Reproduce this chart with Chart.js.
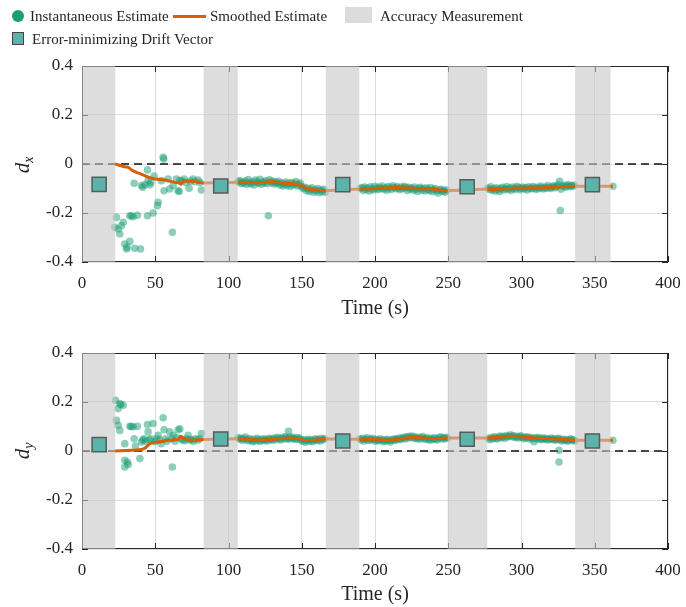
<!DOCTYPE html>
<html>
<head>
<meta charset="utf-8">
<script src="https://cdn.jsdelivr.net/npm/chart.js@4.4.0/dist/chart.umd.min.js"></script>
<style>
body { margin: 0; background: #fff; font-family: "Liberation Serif", serif; color: #262626; }
#wrap { position: relative; width: 686px; height: 607px; overflow: hidden; }
.cv { position: absolute; left: 0; width: 686px; }
.leg { position: absolute; font-size: 15px; line-height: 18px; white-space: nowrap; }
.ico { position: absolute; }
.ylab { position: absolute; width: 40px; height: 28px; line-height: 28px; text-align: center;
        font-style: italic; font-size: 21px; transform: rotate(-90deg); }
.ylab sub { font-size: 14px; vertical-align: -4px; }
</style>
</head>
<body>
<div id="wrap">
  <div id="c1box" class="cv" style="top:0;height:330px"><canvas id="chart_dx"></canvas></div>
  <div id="c2box" class="cv" style="top:330px;height:277px"><canvas id="chart_dy"></canvas></div>

  <!-- legend -->
  <div class="ico" style="left:12px;top:10px;width:12px;height:12px;border-radius:50%;background:#1b9e77"></div>
  <div class="leg" style="left:30px;top:7px">Instantaneous Estimate</div>
  <div class="ico" style="left:173px;top:15px;width:33px;height:3px;background:#d95f02"></div>
  <div class="leg" style="left:210px;top:7px">Smoothed Estimate</div>
  <div class="ico" style="left:345px;top:7px;width:27px;height:16px;background:#dcdcdc"></div>
  <div class="leg" style="left:380px;top:7px">Accuracy Measurement</div>
  <div class="ico" style="left:12px;top:32px;width:10px;height:11px;background:#5ab4ac;border:1.5px solid #444"></div>
  <div class="leg" style="left:32px;top:30px">Error-minimizing Drift Vector</div>

  <div class="ylab" style="left:2px;top:151px">d<sub>x</sub></div>
  <div class="ylab" style="left:2px;top:437px">d<sub>y</sub></div>
</div>
<script>
/*
############################## Data ##############################
*/
// accuracy measurement windows, seconds
var bands = [[0, 22.7], [83, 106.3], [166.4, 189.3], [249.6, 276.6], [336.6, 360.8]];

var xTicks = [0, 50, 100, 150, 200, 250, 300, 350, 400];
var yTicks = [-0.4, -0.2, 0, 0.2, 0.4];

// [time, dx] instantaneous estimates
var instDx = [
  [22.4,-0.258],[23.5,-0.218],[24.7,-0.265],[25.8,-0.286],[26.9,-0.252],[28.1,-0.238],[29.2,-0.327],[30.4,-0.347],
  [30.8,-0.34],[32.6,-0.316],[32.6,-0.211],[33.8,-0.211],[34.9,-0.215],[36,-0.344],[37.8,-0.209],[39.9,-0.347],
  [35.6,-0.079],[40.6,-0.088],[41.5,-0.095],[42.9,-0.085],[44.7,-0.024],[45.1,-0.068],[46.3,-0.085],[47,-0.075],
  [44.7,-0.211],[48.5,-0.2],[49.2,-0.049],[51.5,-0.17],[52,-0.156],[54.2,-0.068],[55.4,0.027],[55.8,0.02],
  [56,-0.109],[58.8,-0.061],[59.9,-0.102],[61.7,-0.279],[62.2,-0.088],[64.5,-0.061],[65.6,-0.109],[66.3,-0.112],
  [66.8,-0.068],[68,-0.07],[69.7,-0.061],[71,-0.075],[73.1,-0.099],[74,-0.07],[75.8,-0.061],[77,-0.072],
  [79.2,-0.065],[80.5,-0.075],[81.5,-0.106],
  [106.5,-0.072],[107.5,-0.068],[108.5,-0.08],[109.5,-0.074],[110.5,-0.079],[111.5,-0.07],[112.5,-0.083],[113.5,-0.063],
  [114.5,-0.077],[115.5,-0.081],[116.5,-0.072],[117.5,-0.086],[118.5,-0.066],[119.5,-0.074],[120.5,-0.079],[121.5,-0.062],
  [122.5,-0.083],[123.5,-0.073],[124.5,-0.078],[125.5,-0.069],[126.5,-0.08],[127.2,-0.211],[128,-0.064],[129,-0.076],
  [130,-0.07],[131,-0.082],[132,-0.074],[133,-0.079],[134,-0.071],[135,-0.085],[136,-0.077],[137,-0.09],
  [138,-0.082],[139,-0.074],[140,-0.087],[141,-0.079],[142,-0.092],[143,-0.076],[144,-0.086],[145,-0.081],
  [146,-0.072],[147,-0.09],[148,-0.084],[149,-0.078],[150,-0.093],[151,-0.1],[152,-0.095],[153,-0.108],
  [154,-0.099],[155,-0.112],[156,-0.104],[157,-0.097],[158,-0.115],[159,-0.105],[160,-0.11],[161,-0.1],
  [162,-0.117],[163,-0.106],[164,-0.112],[165,-0.103],[166,-0.115],
  [190,-0.1],[191,-0.096],[192,-0.108],[193,-0.094],[194,-0.104],[195,-0.098],[196,-0.11],[197,-0.093],
  [198,-0.101],[199,-0.106],[200,-0.091],[201,-0.099],[202,-0.105],[203,-0.094],[204,-0.1],[205,-0.09],
  [206,-0.103],[207,-0.097],[208,-0.107],[209,-0.092],[210,-0.098],[211,-0.104],[212,-0.089],[213,-0.096],
  [214,-0.101],[215,-0.092],[216,-0.099],[217,-0.105],[218,-0.094],[219,-0.1],[220,-0.091],[221,-0.097],
  [222,-0.108],[223,-0.095],[224,-0.102],[225,-0.098],[226,-0.107],[227,-0.094],[228,-0.103],[229,-0.112],
  [230,-0.099],[231,-0.095],[232,-0.106],[233,-0.1],[234,-0.11],[235,-0.097],[236,-0.103],[237,-0.108],
  [238,-0.096],[239,-0.113],[240,-0.104],[241,-0.1],[242,-0.109],[243,-0.118],[244,-0.106],[245,-0.103],
  [246,-0.112],[247,-0.107],[248,-0.115],[249,-0.106],
  [277,-0.098],[278,-0.104],[279,-0.093],[280,-0.107],[281,-0.1],[282,-0.11],[283,-0.097],[284,-0.104],
  [285,-0.112],[286,-0.099],[287,-0.095],[288,-0.106],[289,-0.101],[290,-0.092],[291,-0.104],[292,-0.098],
  [293,-0.108],[294,-0.094],[295,-0.1],[296,-0.103],[297,-0.091],[298,-0.097],[299,-0.105],[300,-0.099],
  [301,-0.094],[302,-0.102],[303,-0.096],[304,-0.106],[305,-0.093],[306,-0.099],[307,-0.101],[308,-0.092],
  [309,-0.098],[310,-0.104],[311,-0.095],[312,-0.1],[313,-0.09],[314,-0.097],[315,-0.102],[316,-0.094],
  [317,-0.099],[318,-0.088],[319,-0.096],[320,-0.1],[321,-0.093],[322,-0.089],[323,-0.097],[324,-0.092],
  [325,-0.085],[326,-0.071],[326.5,-0.19],[327,-0.103],[328,-0.091],[329,-0.087],[330,-0.095],[331,-0.09],
  [332,-0.084],[333,-0.093],[334,-0.088],[335,-0.091],[336,-0.086],[362.4,-0.091]
];

// [time, dy] instantaneous estimates
var instDy = [
  [22.9,0.207],[23.5,0.125],[24.7,0.173],[24.7,0.105],[25.8,0.193],[25.8,0.084],[26.5,0.19],[28.1,0.187],
  [29.2,0.03],[29.2,-0.038],[29.2,-0.065],[31,-0.045],[31.5,-0.055],[32.7,0.101],[33.5,0.1],[34.9,0.099],
  [35.6,0.05],[37.8,0.101],[36.5,0.02],[39.5,-0.031],[40.6,0.037],[41.5,0.045],[42.4,0.05],[43.5,0.04],
  [44.7,0.108],[45.1,0.078],[46,0.045],[47,0.05],[48.5,0.112],[49.5,0.038],[51,0.05],[52,0.064],
  [53,0.045],[54,0.03],[55.4,0.136],[56,0.087],[57,0.05],[58,0.04],[59.9,0.078],[61,0.05],
  [61.7,-0.065],[62.2,0.064],[63.5,0.04],[64.5,0.055],[65.6,0.087],[66.8,0.091],[67.5,0.05],[68.5,0.045],
  [70,0.042],[71.5,0.05],[72.4,0.064],[73.5,0.045],[74.7,0.047],[76,0.04],[77.5,0.05],[79,0.045],
  [80.5,0.05],[81.5,0.071],
  [106.5,0.055],[107.5,0.048],[108.5,0.052],[109.5,0.044],[110.5,0.05],[111.5,0.057],[112.5,0.046],[113.5,0.042],
  [114.5,0.051],[115.5,0.045],[116.5,0.038],[117.5,0.048],[118.5,0.041],[119.5,0.052],[120.5,0.046],[121.5,0.039],
  [122.5,0.045],[123.5,0.05],[124.5,0.043],[125.5,0.048],[126.5,0.041],[127.5,0.052],[128.5,0.046],[129.5,0.05],
  [130.5,0.044],[131.5,0.053],[132.5,0.047],[133.5,0.056],[134.5,0.05],[135.5,0.045],[136.5,0.055],[137.5,0.049],
  [138.5,0.058],[139.5,0.052],[140.5,0.048],[141,0.08],[141.5,0.056],[142.5,0.05],[143.5,0.057],[144.5,0.051],
  [145.5,0.047],[146.5,0.055],[147.5,0.049],[148.5,0.053],[149.5,0.046],[150.5,0.04],[151.5,0.047],[152.5,0.036],
  [153.5,0.043],[154.5,0.048],[155.5,0.04],[156.5,0.046],[157.5,0.038],[158.5,0.045],[159.5,0.05],[160.5,0.043],
  [161.5,0.048],[162.5,0.041],[163.5,0.052],[164.5,0.046],[165.5,0.05],
  [189.5,0.05],[190.5,0.045],[191.5,0.052],[192.5,0.041],[193.5,0.048],[194.5,0.054],[195.5,0.043],[196.5,0.049],
  [197.5,0.045],[198.5,0.052],[199.5,0.046],[200.5,0.04],[201.5,0.047],[202.5,0.043],[203.5,0.05],[204.5,0.044],
  [205.5,0.038],[206.5,0.046],[207.5,0.041],[208.5,0.048],[209.5,0.043],[210.5,0.037],[211.5,0.045],[212.5,0.049],
  [213.5,0.043],[214.5,0.05],[215.5,0.046],[216.5,0.053],[217.5,0.047],[218.5,0.052],[219.5,0.056],[220.5,0.049],
  [221.5,0.058],[222.5,0.053],[223.5,0.06],[224.5,0.055],[225.5,0.061],[226.5,0.052],[227.5,0.057],[228.5,0.05],
  [229.5,0.056],[230.5,0.048],[231.5,0.054],[232.5,0.059],[233.5,0.051],[234.5,0.047],[235.5,0.055],[236.5,0.049],
  [237.5,0.044],[238.5,0.052],[239.5,0.047],[240.5,0.054],[241.5,0.049],[242.5,0.045],[243.5,0.053],[244.5,0.058],
  [245.5,0.05],[246.5,0.055],[247.5,0.049],[248.5,0.056],[249.5,0.052],
  [277.5,0.052],[278.5,0.046],[279.5,0.055],[280.5,0.05],[281.5,0.058],[282.5,0.053],[283.5,0.049],[284.5,0.056],
  [285.5,0.061],[286.5,0.054],[287.5,0.059],[288.5,0.052],[289.5,0.063],[290.5,0.057],[291.5,0.06],[292.5,0.066],
  [293.5,0.058],[294.5,0.062],[295.5,0.055],[296.5,0.06],[297.5,0.053],[298.5,0.058],[299.5,0.062],[300.5,0.055],
  [301.5,0.05],[302.5,0.058],[303.5,0.053],[304.5,0.057],[305.5,0.049],[306.5,0.055],[307.5,0.051],[308.5,0.038],
  [309.5,0.054],[310.5,0.049],[311.5,0.056],[312.5,0.05],[313.5,0.046],[314.5,0.053],[315.5,0.048],[316.5,0.052],
  [317.5,0.045],[318.5,0.05],[319.5,0.047],[320.5,0.053],[321.5,0.046],[322.5,0.05],[323.5,0.044],[324.5,0.049],
  [325.5,0.052],[325.6,0.003],[325.6,-0.045],[326.5,0.046],[327.5,0.041],[328.5,0.048],[329.5,0.043],[330.5,0.047],
  [331.5,0.04],[332.5,0.045],[333.5,0.05],[334.5,0.043],[335.5,0.046],[336.5,0.041],[362.4,0.044]
];

// [time, dx] smoothed estimate
var smoothDx = [
  [22.5,0],[24,-0.002],[26,-0.006],[28,-0.01],[31.5,-0.013],[34,-0.025],[37.2,-0.034],[40,-0.04],
  [42.9,-0.048],[46,-0.055],[49.7,-0.061],[53,-0.063],[56.5,-0.065],[60,-0.07],[63.3,-0.075],[66.8,-0.078],
  [67.5,-0.082],[69,-0.068],[73,-0.07],[77,-0.07],[80,-0.075],[82.6,-0.078],
  [106,-0.075],[107.9,-0.075],[111,-0.073],[114.7,-0.075],[119,-0.078],[123.8,-0.075],[127,-0.072],[130.6,-0.071],
  [134,-0.076],[137.4,-0.079],[142,-0.08],[146.5,-0.082],[149.9,-0.088],[152,-0.096],[154.5,-0.102],[157,-0.104],
  [160.2,-0.106],[164.7,-0.109],
  [189.7,-0.102],[193,-0.1],[196.5,-0.102],[201,-0.099],[205.6,-0.098],[210,-0.097],[214.7,-0.095],[219,-0.097],
  [223.8,-0.098],[228,-0.1],[232.9,-0.102],[236,-0.1],[239.7,-0.102],[243,-0.105],[246.5,-0.109],[249.5,-0.109],
  [277,-0.102],[281,-0.104],[285.2,-0.102],[290,-0.101],[294,-0.099],[298.8,-0.098],[303,-0.099],[307,-0.097],
  [312.5,-0.098],[317,-0.096],[321.5,-0.095],[326,-0.094],[330,-0.092],[335.2,-0.091],
  [362.4,-0.091]
];

// [time, dy] smoothed estimate
var smoothDy = [
  [22.5,0],[26,0.001],[30,0.002],[33.8,0.003],[37,0.004],[40.6,0.006],[43,0.012],[46.3,0.03],
  [49,0.035],[52,0.037],[55,0.04],[58.8,0.044],[62,0.045],[65.6,0.047],[67.4,0.06],[69.5,0.052],
  [71.3,0.047],[74,0.045],[77,0.044],[80,0.046],[82.6,0.047],
  [106,0.05],[107.9,0.05],[111,0.049],[114.7,0.048],[118,0.046],[121.5,0.044],[126,0.046],[130.6,0.048],
  [135,0.05],[140.8,0.053],[145,0.052],[148.8,0.05],[151,0.044],[154,0.043],[157.9,0.044],[161,0.047],
  [164.7,0.05],
  [189.7,0.048],[194,0.049],[198.8,0.048],[203,0.046],[206,0.045],[210.2,0.044],[214,0.047],[219.3,0.05],
  [222,0.054],[224.9,0.057],[228,0.056],[232.9,0.053],[237,0.051],[242,0.05],[245,0.051],[247.6,0.053],
  [249.5,0.053],
  [277.2,0.053],[282,0.055],[287.4,0.057],[293.1,0.061],[297,0.059],[301,0.057],[305,0.055],[310.1,0.053],
  [314,0.052],[319.2,0.05],[323,0.049],[328.3,0.048],[332,0.046],[335.2,0.044],
  [362.4,0.044]
];

// error-minimizing drift vectors, one per measurement window
var driftTime = [11.7, 94.7, 178, 262.9, 348.4];
var driftDx = [-0.083, -0.09, -0.084, -0.093, -0.084];
var driftDy = [0.026, 0.049, 0.041, 0.048, 0.041];

/*
############################## Drawing ##############################
*/
Chart.defaults.font.family = '"Liberation Serif", serif';
Chart.defaults.color = '#262626';

var framePlugin = {
    id: 'frame',
    beforeDatasetsDraw(chart) {
        var ctx = chart.ctx, a = chart.chartArea, x = chart.scales.x, y = chart.scales.y;
        ctx.save();
        // dashed zero line
        var y0 = Math.round(y.getPixelForValue(0));
        ctx.strokeStyle = '#111';
        ctx.lineWidth = 1.6;
        ctx.setLineDash([8, 5]);
        ctx.beginPath();
        ctx.moveTo(a.left, y0);
        ctx.lineTo(a.right, y0);
        ctx.stroke();
        ctx.setLineDash([]);
        // axes box with inward ticks
        ctx.strokeStyle = '#262626';
        ctx.lineWidth = 1;
        ctx.strokeRect(a.left + 0.5, a.top + 0.5, a.width - 1, a.height - 1);
        ctx.beginPath();
        x.ticks.forEach((t, i) => {
            var px = Math.round(x.getPixelForTick(i)) + 0.5;
            ctx.moveTo(px, a.bottom); ctx.lineTo(px, a.bottom - 6);
            ctx.moveTo(px, a.top); ctx.lineTo(px, a.top + 6);
        });
        y.ticks.forEach((t, i) => {
            var py = Math.round(y.getPixelForTick(i)) + 0.5;
            ctx.moveTo(a.left, py); ctx.lineTo(a.left + 6, py);
            ctx.moveTo(a.right, py); ctx.lineTo(a.right - 6, py);
        });
        ctx.stroke();
        ctx.restore();
    },
    afterDatasetDraw(chart, args) {
        // measurement windows are translucent patches laid over estimates and axes
        if (args.index !== 1) return;
        var ctx = chart.ctx, a = chart.chartArea, x = chart.scales.x;
        ctx.save();
        ctx.fillStyle = 'rgba(198,198,198,0.6)';
        bands.forEach(b => {
            var l = x.getPixelForValue(b[0]), r = x.getPixelForValue(b[1]);
            ctx.fillRect(l, a.top, r - l, a.height);
        });
        ctx.restore();
    }
};

function toPoints(pairs) {
    return pairs.map(p => ({x: p[0], y: p[1]}));
}

function draw_drift_chart(canvasId, inst, smooth, driftY, padTop, axisHeight, titlePad) {
    var ctx = document.getElementById(canvasId);
    return new Chart(ctx, {
        type: 'scatter',
        data: {
            datasets: [
                {
                    label: 'Instantaneous Estimate',
                    data: toPoints(inst),
                    backgroundColor: 'rgba(27,158,119,0.5)',
                    borderWidth: 0,
                    pointRadius: 3.8,
                    order: 3
                },
                {
                    label: 'Smoothed Estimate',
                    type: 'line',
                    data: toPoints(smooth),
                    borderColor: '#d95f02',
                    borderWidth: 3,
                    borderJoinStyle: 'round',
                    pointRadius: 0,
                    tension: 0,
                    order: 2
                },
                {
                    label: 'Error-minimizing Drift Vector',
                    data: driftTime.map((t, i) => ({x: t, y: driftY[i]})),
                    pointStyle: 'rect',
                    pointRadius: 10,
                    backgroundColor: '#5ab4ac',
                    borderColor: '#5a5a5a',
                    borderWidth: 1.5,
                    order: 1
                }
            ]
        },
        options: {
            responsive: true,
            maintainAspectRatio: false,
            animation: false,
            layout: { padding: { top: padTop, right: 18, left: 0, bottom: 0 } },
            plugins: { legend: { display: false }, tooltip: { enabled: false } },
            scales: {
                x: {
                    type: 'linear',
                    min: 0,
                    max: 400,
                    afterBuildTicks: s => { s.ticks = xTicks.map(v => ({value: v})); },
                    afterFit: s => { s.height = axisHeight; s.paddingLeft = 0; s.paddingRight = 0; },
                    grid: { color: 'rgba(0,0,0,0.13)', drawTicks: false },
                    border: { display: false },
                    ticks: { font: { size: 17 }, padding: 11, maxRotation: 0 },
                    title: { display: true, text: 'Time (s)', font: { size: 20 }, padding: { top: 0, bottom: titlePad } }
                },
                y: {
                    min: -0.4,
                    max: 0.4,
                    afterBuildTicks: s => { s.ticks = yTicks.map(v => ({value: v})); },
                    afterFit: s => { s.width = 82; s.paddingTop = 0; s.paddingBottom = 0; },
                    grid: { color: 'rgba(0,0,0,0.13)', drawTicks: false },
                    border: { display: false },
                    ticks: {
                        font: { size: 17 },
                        padding: 9,
                        callback: v => (v === 0 ? '0' : v.toFixed(1))
                    }
                }
            }
        },
        plugins: [framePlugin]
    });
}

draw_drift_chart('chart_dx', instDx, smoothDx, driftDx, 66, 68, 9);
draw_drift_chart('chart_dy', instDy, smoothDy, driftDy, 23, 58, 0);
</script>
</body>
</html>
